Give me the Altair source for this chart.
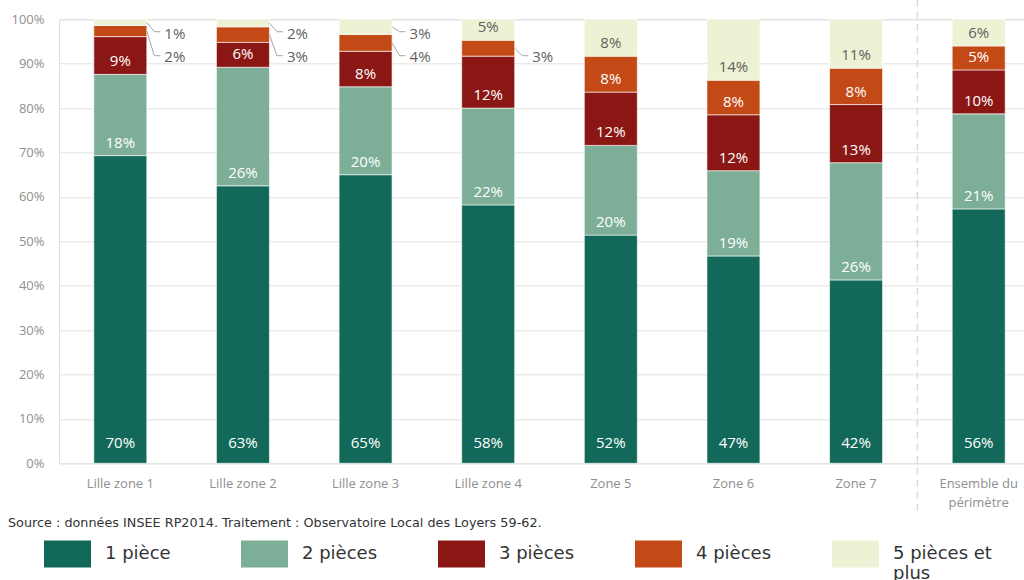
import altair as alt
import pandas as pd

# ---------------- data ----------------
categories = ["Lille zone 1", "Lille zone 2", "Lille zone 3", "Lille zone 4",
              "Zone 5", "Zone 6", "Zone 7", "Ensemble du périmètre"]
series = ["1 pièce", "2 pièces", "3 pièces", "4 pièces", "5 pièces et plus"]
colors = ["#12695A", "#7DAE98", "#8A1714", "#C34A17", "#EEF2D4"]

# segment heights (percent)
v_1p = [69.3, 62.5, 65.0, 58.2, 51.4, 46.7, 41.3, 57.3]
v_2p = [18.3, 26.7, 19.8, 21.8, 20.2, 19.2, 26.4, 21.4]
v_3p = [8.5, 5.6, 8.0, 11.7, 12.0, 12.6, 13.1, 9.9]
v_4p = [2.5, 3.5, 3.8, 3.6, 8.1, 7.8, 8.2, 5.4]
v_5p = [1.4, 1.7, 3.4, 4.7, 8.3, 13.7, 11.0, 6.0]

# printed labels (percent)
l_1p = [70, 63, 65, 58, 52, 47, 42, 56]
l_2p = [18, 26, 20, 22, 20, 19, 26, 21]
l_3p = [9, 6, 8, 12, 12, 12, 13, 10]
l_4p = [2, 3, 4, 3, 8, 8, 8, 5]
l_5p = [1, 2, 3, 5, 8, 14, 11, 6]

# labels printed outside the bar, with a leader line
out_cats = ["Lille zone 1", "Lille zone 1", "Lille zone 2", "Lille zone 2",
            "Lille zone 3", "Lille zone 3", "Lille zone 4"]
out_series = ["5 pièces et plus", "4 pièces", "5 pièces et plus", "4 pièces",
              "5 pièces et plus", "4 pièces", "4 pièces"]
out_slot = ["upper", "lower", "upper", "lower", "upper", "lower", "lower"]

source_text = "Source : données INSEE RP2014. Traitement : Observatoire Local des Loyers 59-62."

# ---------------- table ----------------
vals = [v_1p, v_2p, v_3p, v_4p, v_5p]
labs = [l_1p, l_2p, l_3p, l_4p, l_5p]
SLOT_Y = {"upper": 0.968, "lower": 0.914}
outside = {(c, s): sl for c, s, sl in zip(out_cats, out_series, out_slot)}

rows = []
for i, cat in enumerate(categories):
    cum = 0.0
    for j, s in enumerate(series):
        v = vals[j][i] / 100.0
        lo, hi = cum, cum + v
        cum = hi
        slot = outside.get((cat, s))
        rows.append({
            "cat": cat, "series": s, "order": j,
            "lo": lo, "hi": hi, "mid": (lo + hi) / 2,
            "txt": f"{labs[j][i]}%",
            "tc": "#5f5f5f" if j == 4 else "#ffffff",
            "outside": slot is not None,
            "ly": SLOT_Y[slot] if slot else None,
            "lyl": (SLOT_Y[slot] + 0.004) if slot else None,
        })
df = pd.DataFrame(rows)

STEP = 981 / 8
x_scale = alt.Scale(range=[0, 981], paddingInner=0.568, paddingOuter=0.284)

xenc = alt.X("cat:N", sort=categories, scale=x_scale,
             axis=alt.Axis(title=None, domain=False, ticks=False, labelAngle=0,
                           labelFont="Open Sans", labelFontSize=13,
                           labelColor="#8f8f8f", labelPadding=14,
                           labelLineHeight=19,
                           labelExpr="datum.label == 'Ensemble du périmètre' ? ['Ensemble du', 'périmètre'] : datum.label"))

base = alt.Chart(df)

bars = base.mark_bar(stroke="white", strokeWidth=0.6).encode(
    x=xenc,
    y=alt.Y("lo:Q", scale=alt.Scale(domain=[0, 1], nice=False),
            axis=alt.Axis(title=None, format="%", values=[i / 10 for i in range(11)],
                          labelFont="Open Sans", labelFontSize=13, labelColor="#8f8f8f",
                          labelPadding=15, domain=False, ticks=False,
                          gridColor="#e2e2e2", gridWidth=1)),
    y2="hi:Q",
    color=alt.Color("series:N", sort=series,
                    scale=alt.Scale(domain=series, range=colors),
                    legend=alt.Legend(
                        orient="none", legendX=-15, legendY=511,
                        direction="horizontal", columns=5, title=None,
                        symbolType="M-1,-0.574H1V0.574H-1Z", symbolSize=2209,
                        symbolStrokeWidth=0, symbolOpacity=1,
                        labelFont="DejaVu Sans", labelFontSize=18, labelColor="#333333",
                        labelOffset=14, columnPadding=37, gridAlign="all",
                        labelLimit=250, padding=0,
                        labelExpr="datum.label == '5 pièces et plus' ? ['5 pièces et', 'plus'] : [datum.label, '']")),
    order=alt.Order("order:Q"),
)

inside = base.transform_filter("!datum.outside")

txt_1p = inside.transform_filter("datum.order == 0").mark_text(
    font="Open Sans", fontSize=15, baseline="middle", yOffset=-20
).encode(x=alt.X("cat:N", sort=categories, scale=x_scale), y="lo:Q",
         text="txt:N", color=alt.Color("tc:N", scale=None))

txt_rest = inside.transform_filter("datum.order > 0").mark_text(
    font="Open Sans", fontSize=15, baseline="middle", yOffset=-13
).encode(x=alt.X("cat:N", sort=categories, scale=x_scale), y="lo:Q",
         text="txt:N", color=alt.Color("tc:N", scale=None))

outs = base.transform_filter("datum.outside")

txt_out = outs.mark_text(font="Open Sans", fontSize=15, baseline="middle",
                         align="left", dx=44, color="#5f5f5f").encode(
    x=alt.X("cat:N", sort=categories, scale=x_scale), y="ly:Q", text="txt:N")

lead_diag = outs.mark_rule(color="#a6a6a6", strokeWidth=1,
                           xOffset=26.5, x2Offset=34).encode(
    x=alt.X("cat:N", sort=categories, scale=x_scale), x2="cat",
    y="mid:Q", y2="lyl:Q")

lead_h = outs.mark_rule(color="#a6a6a6", strokeWidth=1,
                        xOffset=34, x2Offset=40).encode(
    x=alt.X("cat:N", sort=categories, scale=x_scale), x2="cat",
    y="lyl:Q")

sep = alt.Chart(pd.DataFrame({"a": [0]})).mark_rule(
    color="#d9d9d9", strokeWidth=1.5, strokeDash=[7, 5]).encode(
    x=alt.value(7 * STEP), y=alt.value(-19.3), y2=alt.value(494))

src = alt.Chart(pd.DataFrame({"t": [source_text]})).mark_text(
    align="left", baseline="middle", font="DejaVu Sans", fontSize=12.8,
    color="#333333").encode(x=alt.value(-51), y=alt.value(503.5), text="t:N")

chart = alt.layer(bars, txt_1p, txt_rest, lead_diag, lead_h, txt_out, sep, src).properties(
    width=965, height=444,
    autosize=alt.AutoSizeParams(type="none"),
    padding={"left": 59, "top": 19.3, "right": 0, "bottom": 116.7},
).configure_view(stroke=None).configure(background="white")

chart.save("out.html", embed_options={"renderer": "svg", "actions": False})
